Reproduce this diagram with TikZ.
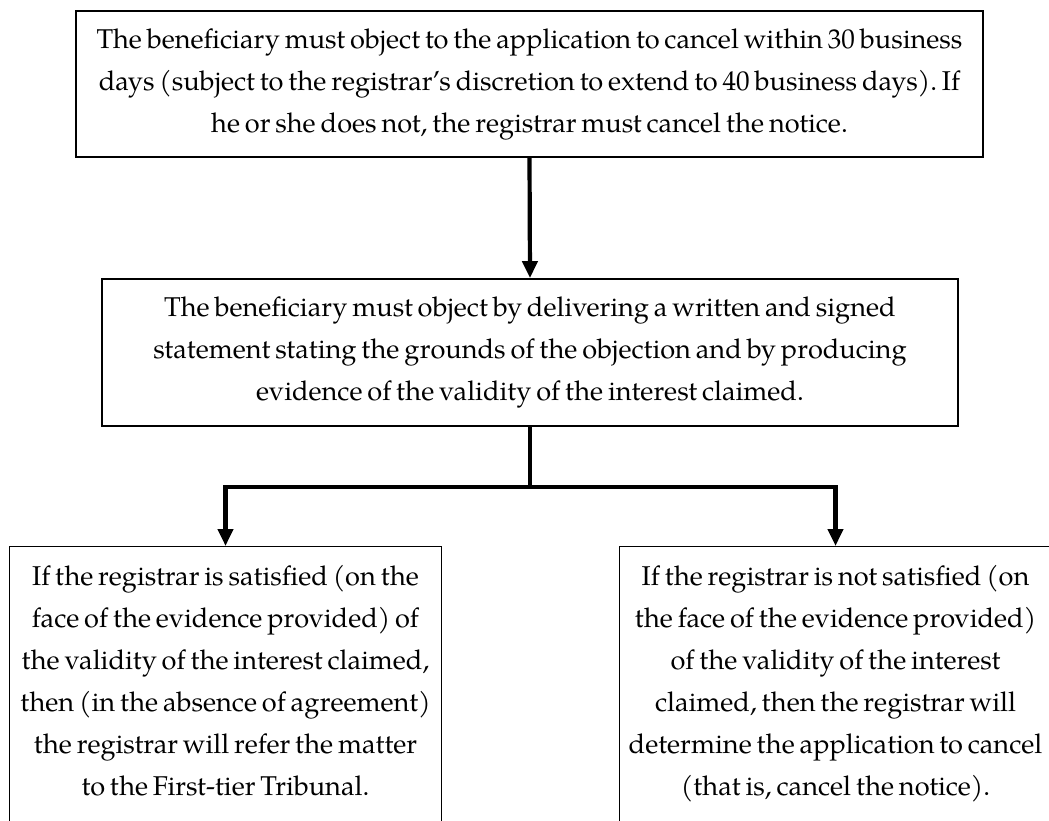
\documentclass[tikz,border=0pt]{standalone}
\usepackage{fontspec}
\setmainfont{texgyrepagella-regular.otf}[WordSpace=0.72]
\usetikzlibrary{arrows.meta}
\newlength\lineonew
\begin{document}
\frenchspacing
% body size derived from the natural width of the first line
\settowidth\lineonew{\fontsize{10pt}{12pt}\selectfont The beneficiary must object to the application to cancel within 30 business}
\pgfmathsetmacro\bodysize{10*866/\lineonew}
\newcommand\boxtext[4]{\parbox[c][#2][#3]{#1}{\centering\fontsize{\bodysize pt}{42pt}\selectfont #4}}
\begin{tikzpicture}[x=1pt,y=-1pt,
  upperbox/.style={draw, line width=1.8pt, inner sep=0pt},
  lowerbox/.style={draw, line width=1pt, inner sep=0pt, anchor=north west},
  trunk/.style={line width=4.2pt},
  conn/.style={trunk, -{Triangle[width=15pt,length=17pt]}}]
\useasboundingbox (0,0) rectangle (1049,821);
\clip (0,0) rectangle (1049,821);
\fill[white] (0,0) rectangle (1049,821);

\node[upperbox] (top) at (529.5,84)
  {\boxtext{907pt}{146pt}{c}{The beneficiary must object to the application to cancel within 30 business\\
   days (subject to the registrar’s discretion to extend to 40 business days). If\\
   he or she does not, the registrar must cancel the notice.}};

\node[upperbox] (mid) at (530,352.5)
  {\boxtext{856pt}{147pt}{c}{The beneficiary must object by delivering a written and signed\\
   statement stating the grounds of the objection and by producing\\
   evidence of the validity of the interest claimed.}};

\node[lowerbox] (L) at (9,546)
  {\boxtext{432pt}{300pt}{t}{\rule{0pt}{39pt}If the registrar is satisfied (on the\\
   face of the evidence provided) of\\
   the validity of the interest claimed,\\
   then (in the absence of agreement)\\
   the registrar will refer the matter\\
   to the First-tier Tribunal.}};

\node[lowerbox] (R) at (619,546)
  {\boxtext{432pt}{300pt}{t}{\rule{0pt}{39pt}If the registrar is not satisfied (on\\
   the face of the evidence provided)\\
   of the validity of the interest\\
   claimed, then the registrar will\\
   determine the application to cancel\\
   (that is, cancel the notice).}};

\coordinate (fork) at (530,487);

\draw[conn] (top.south) -- (mid.north);
\draw[trunk] (mid.south) -- (fork);
\draw[conn] (fork) -| (L.north);
\draw[conn] (fork) -| (R.north);
\end{tikzpicture}
\end{document}
